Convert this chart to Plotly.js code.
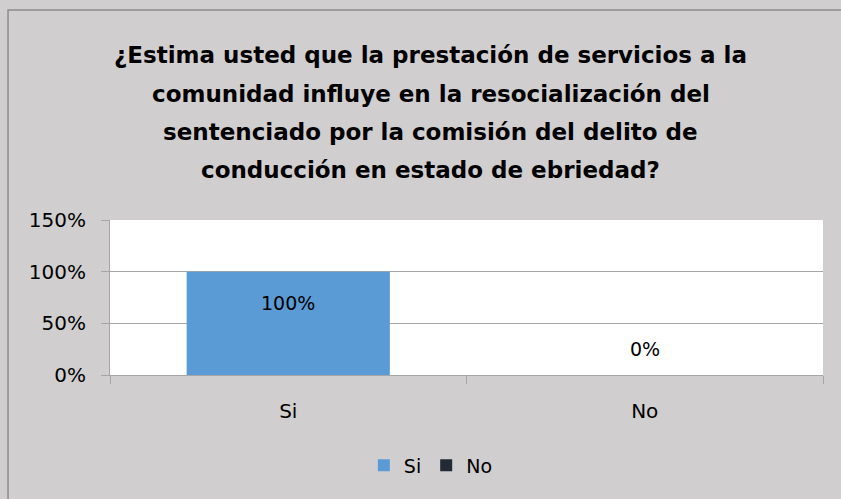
<!DOCTYPE html>
<html><head><meta charset="utf-8">
<script src="https://cdn.plot.ly/plotly-3.0.1.min.js"></script>
<style>html,body{margin:0;padding:0;background:#d0cece;}#chart{width:841px;height:499px;}</style>
</head><body><div id="chart"></div>
<script>
const categories = ['Si', 'No'];
const values = [1.0, 0.0];
const labels = ['100%', '0%'];
const colors = ['#5b9bd5', '#222a35'];
const yTicks = [0, 0.5, 1.0, 1.5];
const yTickText = ['0%', '50%', '100%', '150%'];
const titleLines = [
  '¿Estima usted que la prestación de servicios a la',
  'comunidad influye en la resocialización del',
  'sentenciado por la comisión del delito de',
  'conducción en estado de ebriedad?'
];

const font = '"DejaVu Sans", sans-serif';
const traces = categories.map((c, i) => ({
  type: 'bar', x: [c], y: [values[i]], name: c,
  marker: {color: colors[i]}, width: 0.57, hoverinfo: 'none'
}));

const annotations = categories.map((c, i) => ({
  x: c, y: values[i], xref: 'x', yref: 'y', text: labels[i], showarrow: false,
  yshift: values[i] > 0 ? -31 : 26, font: {family: font, size: 19, color: '#000'}
}));

// title, one annotation per line (plot top = 220px, plot height = 155px)
const linePx = [55, 94, 132, 170];
titleLines.forEach((t, i) => {
  annotations.push({
    text: t, xref: 'paper', yref: 'paper', x: 0.450, xanchor: 'center',
    y: (375 - linePx[i]) / 155, yanchor: 'middle', showarrow: false,
    font: {family: font, size: 23, color: '#000', weight: 'bold'}
  });
});

const layout = {
  width: 841, height: 499,
  paper_bgcolor: '#d0cece', plot_bgcolor: '#ffffff',
  margin: {l: 110, r: 18, t: 220, b: 124},
  barmode: 'overlay',
  xaxis: {showline: true, linecolor: '#a6a6a6', linewidth: 1, ticks: 'outside',
          tickcolor: '#a6a6a6', ticklen: 8, tickson: 'boundaries', ticklabelstandoff: 18,
          tickfont: {family: font, size: 20, color: '#000'}, showgrid: false, fixedrange: true},
  yaxis: {range: [0, 1.5], tickvals: yTicks, ticktext: yTickText, showgrid: true,
          gridcolor: '#a6a6a6', gridwidth: 1, showline: true, linecolor: '#a6a6a6',
          ticks: 'outside', tickcolor: '#a6a6a6', ticklen: 8, zeroline: false, ticklabelstandoff: 11,
          tickfont: {family: font, size: 20, color: '#000'}, fixedrange: true},
  showlegend: true,
  legend: {orientation: 'h', x: 0.45, xanchor: 'center', y: -0.46, yanchor: 'top',
           font: {family: font, size: 19, color: '#000'}, bgcolor: 'rgba(0,0,0,0)',
           itemwidth: 30, traceorder: 'normal'},
  annotations: annotations,
  shapes: [{type: 'rect', xref: 'paper', yref: 'paper', x0: -0.143, x1: 1.05,
            y0: -0.9, y1: 2.355, line: {color: '#8c8c8c', width: 1.5}, fillcolor: 'rgba(0,0,0,0)', layer: 'below'}]
};
Plotly.newPlot('chart', traces, layout, {displayModeBar: false, staticPlot: true});
</script></body></html>
